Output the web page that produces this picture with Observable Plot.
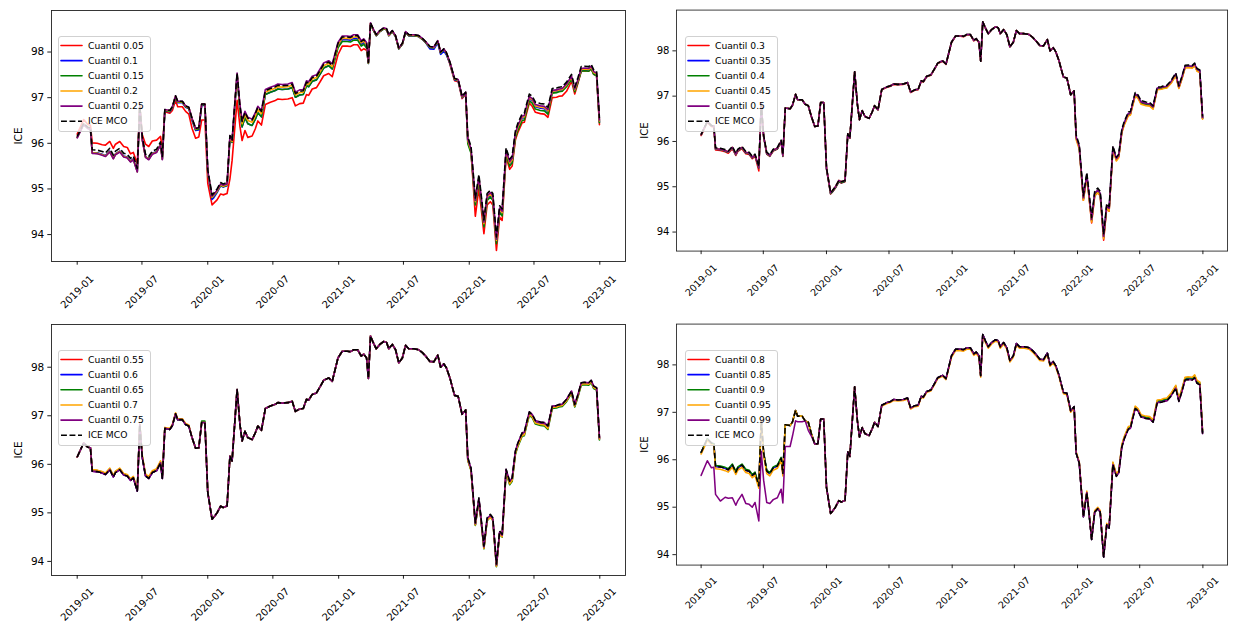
<!DOCTYPE html>
<html>
<head>
<meta charset="utf-8">
<script src="https://cdn.jsdelivr.net/npm/d3@7"></script>
<script src="https://cdn.jsdelivr.net/npm/@observablehq/plot@0.6"></script>
<style>
  html, body { margin:0; padding:0; background:#fff; overflow:hidden; }
  #chart { position:relative; width:1241px; height:623px; overflow:hidden; background:#fff; }
  #chart .panel { position:absolute; }
  #chart svg { overflow:visible; }
</style>
</head>
<body>
<div id="chart"></div>
<script>
// ---------- data ----------
const dates = [
"2019-01-01","2019-01-19","2019-01-31","2019-02-07","2019-02-12","2019-02-26","2019-03-12","2019-03-21","2019-04-02","2019-04-12",
"2019-04-18","2019-04-30","2019-05-11","2019-05-21","2019-05-30","2019-06-07","2019-06-18","2019-06-25","2019-07-02","2019-07-11",
"2019-07-20","2019-07-30","2019-08-11","2019-08-22","2019-08-27","2019-09-03","2019-09-17","2019-09-24","2019-10-03","2019-10-09",
"2019-10-22","2019-10-31","2019-11-09","2019-11-18","2019-11-28","2019-12-07","2019-12-15","2019-12-24","2020-01-01","2020-01-13",
"2020-01-18","2020-01-27","2020-02-06","2020-02-13","2020-02-24","2020-03-03","2020-03-09","2020-03-23","2020-03-31","2020-04-06",
"2020-04-14","2020-04-22","2020-05-04","2020-05-13","2020-05-20","2020-05-30","2020-06-10","2020-06-24","2020-07-06","2020-07-15",
"2020-07-27","2020-08-12","2020-08-24","2020-09-02","2020-09-14","2020-09-24","2020-10-03","2020-10-09","2020-10-19","2020-10-31",
"2020-11-11","2020-11-20","2020-12-04","2020-12-14","2020-12-30","2021-01-11","2021-01-25","2021-02-03","2021-02-12","2021-02-23",
"2021-03-05","2021-03-12","2021-03-20","2021-03-25","2021-03-31","2021-04-08","2021-04-16","2021-04-26","2021-05-07","2021-05-15",
"2021-05-21","2021-05-31","2021-06-09","2021-06-18","2021-06-28","2021-07-07","2021-07-16","2021-07-30","2021-08-13","2021-08-23",
"2021-09-01","2021-09-13","2021-09-24","2021-10-05","2021-10-13","2021-10-22","2021-10-29","2021-11-08","2021-11-14","2021-11-21",
"2021-12-01","2021-12-12","2021-12-22","2021-12-28","2022-01-06","2022-01-18","2022-01-28","2022-02-03","2022-02-11","2022-02-20",
"2022-03-01","2022-03-08","2022-03-18","2022-03-27","2022-04-03","2022-04-14","2022-04-24","2022-05-01","2022-05-10","2022-05-17",
"2022-05-29","2022-06-04","2022-06-09","2022-06-18","2022-06-26","2022-07-05","2022-07-19","2022-07-30","2022-08-09","2022-08-21",
"2022-09-02","2022-09-09","2022-09-18","2022-09-30","2022-10-14","2022-10-23","2022-11-01","2022-11-10","2022-11-19","2022-12-01",
"2022-12-08","2022-12-15","2022-12-23","2022-12-31"
];

// ICE MCO (dashed black line, identical in the four panels)
const iceMCO = [
96.15,96.44,96.35,96.34,95.86,95.85,95.82,95.79,95.89,95.74,
95.83,95.89,95.78,95.76,95.67,95.72,95.45,96.82,96.14,95.76,
95.71,95.83,95.87,96.03,95.71,96.74,96.72,96.80,97.04,96.92,
96.92,96.82,96.79,96.55,96.33,96.34,96.86,96.86,95.42,94.87,
94.91,95.00,95.14,95.11,95.14,96.17,96.07,97.54,96.82,96.48,
96.68,96.55,96.51,96.65,96.79,96.70,97.15,97.20,97.23,97.27,
97.26,97.27,97.30,97.09,97.14,97.15,97.34,97.32,97.44,97.47,
97.61,97.73,97.78,97.71,98.19,98.33,98.33,98.32,98.36,98.36,
98.23,98.27,98.19,97.77,98.64,98.50,98.38,98.47,98.53,98.51,
98.38,98.47,98.36,98.09,98.19,98.45,98.38,98.38,98.36,98.30,
98.23,98.12,98.11,98.25,98.00,98.07,97.99,97.78,97.61,97.42,
97.40,97.03,97.12,96.14,95.93,94.80,95.31,94.90,94.32,94.90,
94.97,94.90,93.95,94.63,94.56,95.90,95.65,95.72,96.27,96.44,
96.65,96.66,96.82,97.08,97.03,96.90,96.87,96.86,96.79,97.20,
97.21,97.23,97.24,97.34,97.51,97.23,97.44,97.68,97.69,97.68,
97.73,97.61,97.58,96.55
];

// Quantile lines, read as their gap from the ICE MCO line at each date
const q005Gap = [
.05,.08,.06,.06,.15,.15,.15,.17,.15,.15,
.15,.15,.15,.15,.1,.08,.1,0,.05,.22,
.22,.22,.2,.12,.15,-.05,-.06,-.08,-.1,-.12,
-.12,-.12,-.15,-.22,-.22,-.2,-.35,-.35,-.3,-.22,
-.22,-.24,-.25,-.24,-.24,-.95,-.45,-.6,-.45,-.42,
-.4,-.42,-.35,-.33,-.3,-.3,-.3,-.3,-.3,-.3,
-.3,-.3,-.3,-.27,-.27,-.27,-.27,-.27,-.25,-.25,
-.25,-.25,-.25,-.25,-.25,-.2,-.2,-.2,-.2,-.2,
-.2,-.2,-.15,0,-.02,-.02,-.02,-.02,-.02,-.02,
-.02,-.02,-.02,-.02,-.02,-.02,-.02,-.02,-.02,-.02,
-.02,-.02,-.02,-.02,-.02,-.02,-.02,-.05,-.05,-.05,
-.05,-.05,-.05,-.08,-.12,-.4,-.3,-.3,-.3,-.25,
-.25,-.25,-.3,-.25,-.25,-.2,-.22,-.22,-.2,-.2,
-.2,-.2,-.2,-.2,-.22,-.22,-.22,-.22,-.22,-.2,
-.2,-.2,-.2,-.2,-.15,-.15,-.12,-.1,-.1,-.1,
-.1,-.1,-.1,-.14
];
const q010Gap = [
-.02,-.02,-.02,-.02,-.06,-.06,-.06,-.06,-.06,-.06,
-.06,-.06,-.06,-.06,-.06,-.06,-.06,0,-.05,-.05,
-.05,-.05,-.05,-.05,-.05,-.03,-.03,-.03,-.03,-.03,
-.03,-.03,-.03,-.05,-.05,-.05,-.03,-.03,-.05,-.1,
-.1,-.08,-.07,-.07,-.07,-.05,-.05,-.05,-.12,-.12,
-.12,-.12,-.12,-.12,-.12,-.12,-.08,-.08,-.08,-.08,
-.08,-.08,-.08,-.08,-.08,-.08,-.08,-.08,-.08,-.08,
-.08,-.08,-.08,-.08,-.06,-.06,-.06,-.06,-.06,-.06,
-.06,-.06,-.06,-.02,-.02,-.02,-.02,-.02,-.02,-.02,
-.02,-.02,-.02,-.02,-.02,-.02,-.02,-.02,-.02,-.02,
-.02,-.05,-.05,-.05,-.05,-.05,-.05,-.03,-.03,-.03,
-.03,-.03,-.03,-.1,-.1,-.1,-.1,-.1,-.1,-.1,
-.1,-.1,-.1,-.1,-.1,-.1,-.1,-.1,-.1,-.1,
-.1,-.1,-.1,-.1,-.1,-.1,-.1,-.1,-.1,-.08,
-.08,-.08,-.08,-.08,-.08,-.08,-.08,-.08,-.08,-.08,
-.08,-.08,-.08,-.08
];
const q015Gap = [
-.02,-.02,-.02,-.02,-.07,-.07,-.07,-.07,-.07,-.07,
-.07,-.07,-.07,-.07,-.07,-.07,-.07,0,-.06,-.06,
-.06,-.06,-.06,-.06,-.06,-.02,-.02,-.02,-.02,-.02,
-.02,-.02,-.02,-.03,-.03,-.03,-.02,-.02,-.06,-.06,
-.06,-.06,-.06,-.06,-.06,-.05,-.05,-.05,-.12,-.12,
-.12,-.12,-.12,-.12,-.12,-.12,-.08,-.08,-.08,-.08,
-.08,-.08,-.08,-.08,-.08,-.08,-.08,-.08,-.08,-.08,
-.08,-.08,-.08,-.08,-.1,-.1,-.1,-.1,-.1,-.1,
-.1,-.1,-.1,-.02,-.02,-.02,-.02,-.02,-.02,-.02,
-.02,-.02,-.02,-.02,-.02,-.02,-.02,-.02,-.02,-.02,
-.02,-.02,-.02,-.02,-.02,-.02,-.02,-.02,-.02,-.02,
-.02,-.02,-.02,-.15,-.15,-.15,-.15,-.15,-.15,-.15,
-.15,-.15,-.15,-.15,-.15,-.15,-.15,-.15,-.15,-.15,
-.15,-.15,-.15,-.15,-.15,-.15,-.15,-.15,-.15,-.1,
-.1,-.1,-.1,-.1,-.1,-.1,-.1,-.1,-.1,-.1,
-.1,-.1,-.1,-.1
];
const q020Gap = [
-.02,-.02,-.02,-.02,-.07,-.07,-.07,-.07,-.07,-.07,
-.07,-.07,-.07,-.07,-.07,-.07,-.07,0,-.06,-.06,
-.06,-.06,-.06,-.06,-.06,-.01,-.01,-.01,-.01,-.01,
-.01,-.01,-.01,-.01,-.01,-.01,0,0,-.05,-.05,
-.05,-.05,-.05,-.05,-.05,-.03,-.03,-.03,-.05,-.05,
-.05,-.05,-.05,-.05,-.05,-.05,-.03,-.03,-.03,-.03,
-.03,-.03,-.03,-.03,-.03,-.03,-.03,-.03,-.03,-.03,
-.03,-.03,-.03,-.03,-.03,-.03,-.03,-.03,-.03,-.03,
-.03,-.03,-.03,-.01,-.01,-.01,-.01,-.01,-.01,-.01,
-.01,-.01,-.01,-.01,-.01,-.01,-.01,-.01,-.01,-.01,
-.01,-.01,-.01,-.01,-.01,-.01,-.01,-.01,-.01,-.01,
-.01,-.01,-.01,-.08,-.08,-.08,-.08,-.08,-.08,-.08,
-.08,-.08,-.08,-.08,-.08,-.08,-.08,-.08,-.08,-.08,
-.08,-.08,-.08,-.08,-.08,-.08,-.08,-.08,-.08,-.06,
-.06,-.06,-.06,-.06,-.06,-.06,-.06,-.06,-.06,-.06,
-.06,-.06,-.06,-.06
];
const q025Gap = [
-.03,-.03,-.03,-.03,-.08,-.08,-.08,-.08,-.08,-.08,
-.08,-.08,-.08,-.08,-.08,-.08,-.08,0,-.07,-.07,
-.07,-.07,-.07,-.07,-.07,0,0,0,0,0,
0,0,0,0,0,0,0,0,-.03,-.03,
-.03,-.03,-.03,-.03,-.03,0,0,0,.02,.02,
.02,.02,.02,.02,.02,.02,.03,.03,.03,.03,
.03,.03,.03,.03,.03,.03,.03,.03,.03,.03,
.03,.03,.03,.03,.02,.02,.02,.02,.02,.02,
.02,.02,.02,0,0,0,0,0,0,0,
0,0,0,0,0,0,0,0,0,0,
0,0,0,0,0,0,0,0,0,0,
0,0,0,-.05,-.05,-.05,-.05,-.05,-.05,-.05,
-.05,-.05,-.05,-.05,-.05,-.05,-.05,-.05,-.05,-.05,
-.05,-.05,-.05,-.05,-.05,-.05,-.05,-.05,-.05,-.04,
-.04,-.04,-.04,-.04,-.04,-.04,-.04,-.04,-.04,-.04,
-.04,-.04,-.04,-.04
];
const q030Gap = [
-.02,-.02,-.02,-.02,-.05,-.05,-.05,-.05,-.05,-.05,
-.05,-.05,-.05,-.05,-.05,-.05,-.1,0,-.04,-.04,
-.04,-.04,-.04,-.04,-.04,0,0,0,0,0,
0,0,0,0,0,0,0,0,-.03,-.03,
-.03,-.03,-.03,-.03,-.03,0,0,0,0,0,
0,0,0,0,0,0,-.01,-.01,-.01,-.01,
-.01,-.01,-.01,-.01,-.01,-.01,-.01,-.01,-.01,-.01,
-.01,-.01,-.01,-.01,-.01,-.01,-.01,-.01,-.01,-.01,
-.01,-.01,-.01,0,0,0,0,0,0,0,
0,0,0,0,0,0,0,0,0,0,
0,0,0,0,0,0,0,0,0,0,
0,0,0,-.05,-.06,-.1,-.08,-.1,-.12,-.1,
-.1,-.1,-.13,-.1,-.1,-.06,-.06,-.06,-.06,-.06,
-.06,-.06,-.06,-.06,-.06,-.06,-.06,-.06,-.06,-.05,
-.05,-.05,-.05,-.05,-.05,-.05,-.05,-.05,-.05,-.05,
-.05,-.05,-.05,-.05
];
const q035Gap = [
0,0,0,0,-.03,-.03,-.03,-.03,-.03,-.03,
-.03,-.03,-.03,-.03,-.03,-.03,-.03,0,-.03,-.03,
-.03,-.03,-.03,-.03,-.03,0,0,0,0,0,
0,0,0,0,0,0,0,0,-.02,-.02,
-.02,-.02,-.02,-.02,-.02,0,0,0,0,0,
0,0,0,0,0,0,0,0,0,0,
0,0,0,0,0,0,0,0,0,0,
0,0,0,0,0,0,0,0,0,0,
0,0,0,0,0,0,0,0,0,0,
0,0,0,0,0,0,0,0,0,0,
0,0,0,0,0,0,0,0,0,0,
0,0,0,-.07,-.07,-.07,-.07,-.07,-.07,-.07,
-.07,-.07,-.07,-.07,-.07,-.04,-.04,-.04,-.04,-.04,
-.04,-.04,-.04,-.04,-.04,-.04,-.04,-.04,-.04,-.03,
-.03,-.03,-.03,-.03,-.03,-.03,-.03,-.03,-.03,-.03,
-.03,-.03,-.03,-.03
];
const q040Gap = [
0,0,0,0,-.03,-.03,-.03,-.03,-.03,-.03,
-.03,-.03,-.03,-.03,-.03,-.03,-.03,0,-.03,-.03,
-.03,-.03,-.03,-.03,-.03,0,0,0,0,0,
0,0,0,0,0,0,0,0,-.02,-.02,
-.02,-.02,-.02,-.02,-.02,0,0,0,0,0,
0,0,0,0,0,0,0,0,0,0,
0,0,0,0,0,0,0,0,0,0,
0,0,0,0,0,0,0,0,0,0,
0,0,0,0,0,0,0,0,0,0,
0,0,0,0,0,0,0,0,0,0,
0,0,0,0,0,0,0,0,0,0,
0,0,0,-.06,-.06,-.06,-.06,-.06,-.06,-.06,
-.06,-.06,-.06,-.06,-.06,-.05,-.05,-.05,-.05,-.05,
-.05,-.05,-.05,-.05,-.05,-.05,-.05,-.05,-.05,-.04,
-.04,-.04,-.04,-.04,-.04,-.04,-.04,-.04,-.04,-.04,
-.04,-.04,-.04,-.04
];
const q045Gap = [
0,0,0,0,-.02,-.02,-.02,-.02,-.02,-.02,
-.02,-.02,-.02,-.02,-.02,-.02,-.02,0,-.02,-.02,
-.02,-.02,-.02,-.02,-.02,0,0,0,0,0,
0,0,0,0,0,0,0,0,0,0,
0,0,0,0,0,0,0,0,0,0,
0,0,0,0,0,0,0,0,0,0,
0,0,0,0,0,0,0,0,0,0,
0,0,0,0,0,0,0,0,0,0,
0,0,0,0,0,0,0,0,0,0,
0,0,0,0,0,0,0,0,0,0,
0,0,0,0,0,0,0,0,0,0,
0,0,0,-.1,-.1,-.1,-.1,-.1,-.1,-.1,
-.1,-.1,-.1,-.1,-.1,-.08,-.08,-.08,-.08,-.08,
-.08,-.08,-.08,-.08,-.08,-.08,-.08,-.08,-.08,-.06,
-.06,-.06,-.06,-.06,-.06,-.06,-.06,-.06,-.06,-.06,
-.06,-.06,-.06,-.06
];
const q050Gap = [
0,0,0,0,-.02,-.02,-.02,-.02,-.02,-.02,
-.02,-.02,-.02,-.02,-.02,-.02,-.02,0,-.02,-.02,
-.02,-.02,-.02,-.02,-.02,0,0,0,0,0,
0,0,0,0,0,0,0,0,0,0,
0,0,0,0,0,0,0,0,0,0,
0,0,0,0,0,0,0,0,0,0,
0,0,0,0,0,0,0,0,0,0,
0,0,0,0,0,0,0,0,0,0,
0,0,0,0,0,0,0,0,0,0,
0,0,0,0,0,0,0,0,0,0,
0,0,0,0,0,0,0,0,0,0,
0,0,0,-.04,-.04,-.04,-.04,-.04,-.04,-.04,
-.04,-.04,-.04,-.04,-.04,-.03,-.03,-.03,-.03,-.03,
-.03,-.03,-.03,-.03,-.03,-.03,-.03,-.03,-.03,-.02,
-.02,-.02,-.02,-.02,-.02,-.02,-.02,-.02,-.02,-.02,
-.02,-.02,-.02,-.02
];
const q055Gap = [
0,0,0,0,0,0,0,0,0,0,
0,0,0,0,0,0,0,0,0,0,
0,0,0,0,0,0,0,0,0,0,
0,0,0,0,0,0,0,0,0,0,
0,0,0,0,0,0,0,0,0,0,
0,0,0,0,0,0,0,0,0,0,
0,0,0,0,0,0,0,0,0,0,
0,0,0,0,0,0,0,0,0,0,
0,0,0,0,0,0,0,0,0,0,
0,0,0,0,0,0,0,0,0,0,
0,0,0,0,0,0,0,0,0,0,
0,0,0,-.04,-.04,-.04,-.04,-.04,-.04,-.04,
-.04,-.04,-.04,-.04,-.04,-.03,-.03,-.03,-.03,-.03,
-.03,-.03,-.03,-.03,-.03,-.03,-.03,-.03,-.03,-.02,
-.02,-.02,-.02,-.02,-.02,-.02,-.02,-.02,-.02,-.02,
-.02,-.02,-.02,-.02
];
const q060Gap = [
0,0,0,0,0,0,0,0,0,0,
0,0,0,0,0,0,0,0,0,0,
0,0,0,0,0,0,0,0,0,0,
0,0,0,0,0,0,0,0,0,0,
0,0,0,0,0,0,0,0,0,0,
0,0,0,0,0,0,0,0,0,0,
0,0,0,0,0,0,0,0,0,0,
0,0,0,0,0,0,0,0,0,0,
0,0,0,0,0,0,0,0,0,0,
0,0,0,0,0,0,0,0,0,0,
0,0,0,0,0,0,0,0,0,0,
0,0,0,-.04,-.04,-.04,-.04,-.04,-.04,-.04,
-.04,-.04,-.04,-.04,-.04,-.04,-.04,-.04,-.04,-.04,
-.04,-.04,-.04,-.04,-.04,-.04,-.04,-.04,-.04,-.03,
-.03,-.03,-.03,-.03,-.03,-.03,-.03,-.03,-.03,-.03,
-.03,-.03,-.03,-.03
];
const q065Gap = [
0,0,0,0,.02,.02,.02,.02,.02,.02,
.02,.02,.02,.02,.02,.02,.02,0,.02,.02,
.02,.02,.02,.02,.02,0,0,0,0,0,
0,0,0,0,0,0,.03,.03,0,0,
0,0,0,0,0,0,0,0,0,0,
0,0,0,0,0,0,0,0,0,0,
0,0,0,0,0,0,0,0,0,0,
0,0,0,0,0,0,0,0,0,0,
0,0,0,0,0,0,0,0,0,0,
0,0,0,0,0,0,0,0,0,0,
0,0,0,0,0,0,0,0,0,0,
0,0,0,-.06,-.06,-.06,-.06,-.06,-.06,-.06,
-.06,-.06,-.06,-.06,-.06,-.07,-.07,-.07,-.07,-.07,
-.07,-.07,-.07,-.07,-.07,-.07,-.07,-.07,-.07,-.05,
-.05,-.05,-.05,-.05,-.05,-.05,-.05,-.05,-.05,-.05,
-.05,-.05,-.05,-.05
];
const q070Gap = [
0,0,0,0,.03,.03,.03,.03,.03,.03,
.03,.03,.03,.03,.03,.03,.03,0,.04,.04,
.04,.04,.04,.04,.04,.02,.02,.02,.02,.02,
.02,.02,.02,0,0,0,0,0,0,0,
0,0,0,0,0,0,0,0,0,0,
0,0,0,0,0,0,0,0,0,0,
0,0,0,0,0,0,0,0,0,0,
0,0,0,0,0,0,0,0,0,0,
0,0,0,0,0,0,0,0,0,0,
0,0,0,0,0,0,0,0,0,0,
0,0,0,0,0,0,0,0,0,0,
0,0,0,-.05,-.05,-.05,-.05,-.05,-.05,-.05,
-.05,-.05,-.05,-.05,-.05,-.05,-.05,-.05,-.05,-.05,
-.05,-.05,-.05,-.05,-.05,-.05,-.05,-.05,-.05,-.03,
-.03,-.03,-.03,-.03,-.03,-.03,-.03,-.03,-.03,-.03,
-.03,-.03,-.03,-.03
];
const q075Gap = [
0,0,0,0,0,0,0,0,0,0,
0,0,0,0,0,0,0,0,0,0,
0,0,0,0,0,0,0,0,0,0,
0,0,0,0,0,0,0,0,0,0,
0,0,0,0,0,0,0,0,0,0,
0,0,0,0,0,0,0,0,0,0,
0,0,0,0,0,0,0,0,0,0,
0,0,0,0,0,0,0,0,0,0,
0,0,0,0,0,0,0,0,0,0,
0,0,0,0,0,0,0,0,0,0,
0,0,0,0,0,0,0,0,0,0,
0,0,0,-.02,-.02,-.02,-.02,-.02,-.02,-.02,
-.02,-.02,-.02,-.02,-.02,0,0,0,0,0,
0,0,0,0,0,0,0,0,0,0,
0,0,0,0,0,0,0,0,0,0,
0,0,0,0
];
const q080Gap = [
0,0,0,0,0,0,0,0,0,0,
0,0,0,0,0,0,0,0,0,0,
0,0,0,0,0,0,0,0,0,0,
0,0,0,0,0,0,0,0,0,0,
0,0,0,0,0,0,0,0,0,0,
0,0,0,0,0,0,0,0,0,0,
0,0,0,0,0,0,0,0,0,0,
0,0,0,0,0,0,0,0,0,0,
0,0,0,0,0,0,0,0,0,0,
0,0,0,0,0,0,0,0,0,0,
0,0,0,0,0,0,0,0,0,0,
0,0,0,0,0,0,0,0,0,0,
0,0,0,0,0,.02,.02,.02,.02,.02,
.02,.02,.02,.02,.02,.02,.02,.02,.02,.02,
.02,.02,.02,.02,.02,.02,.02,.02,.02,.02,
.02,.02,.02,.02
];
const q085Gap = [
0,0,0,0,0,0,0,0,0,0,
0,0,0,0,0,0,0,0,0,0,
0,0,0,0,0,0,0,0,0,0,
0,0,0,0,0,0,0,0,0,0,
0,0,0,0,0,0,0,0,0,0,
0,0,0,0,0,0,0,0,0,0,
0,0,0,0,0,0,0,0,0,0,
0,0,0,0,0,0,0,0,0,0,
0,0,0,0,0,0,0,0,0,0,
0,0,0,0,0,0,0,0,0,0,
0,0,0,0,0,0,0,0,0,0,
0,0,0,0,0,0,0,0,0,0,
0,0,0,0,0,.02,.02,.02,.02,.02,
.02,.02,.02,.02,.02,.02,.02,.02,.02,.03,
.03,.03,.03,.03,.03,.03,.03,.03,.03,.03,
.03,.03,.03,.03
];
const q090Gap = [
0,0,0,0,.02,.02,.02,.02,.02,.02,
.02,.02,.02,.02,.02,.02,.02,0,.02,.02,
.02,.02,.02,.02,.02,0,0,0,0,0,
0,0,0,0,0,0,0,0,0,0,
0,0,0,0,0,0,0,0,0,0,
0,0,0,0,0,0,0,0,0,0,
0,0,0,0,0,0,0,0,0,0,
0,0,0,0,0,0,0,0,0,0,
0,0,0,0,0,0,0,0,0,0,
0,0,0,0,0,0,0,0,0,0,
0,0,0,0,0,0,0,0,0,0,
0,0,0,0,0,0,0,0,0,0,
0,0,0,0,0,.03,.03,.03,.03,.03,
.03,.03,.03,.03,.03,.03,.03,.03,.03,.04,
.04,.04,.04,.04,.04,.04,.04,.04,.04,.04,
.04,.04,.04,.04
];
const q095Gap = [
-.03,-.03,-.03,-.03,-.05,-.05,-.05,-.05,-.05,-.05,
-.05,-.05,-.05,-.05,-.05,-.05,-.05,0,-.05,-.05,
-.05,-.05,-.05,-.05,-.05,0,0,0,0,0,
0,0,0,0,0,0,0,0,0,0,
0,0,0,0,0,0,0,0,0,0,
0,0,0,0,0,0,-.02,-.02,-.02,-.02,
-.02,-.02,-.02,-.02,-.02,-.02,-.02,-.02,-.02,-.02,
-.02,-.02,-.02,-.02,-.03,-.03,-.03,-.03,-.03,-.03,
-.03,-.03,-.03,-.03,-.03,-.03,-.03,-.03,-.03,-.03,
-.03,-.03,-.03,-.03,-.03,-.03,-.03,-.03,-.03,-.03,
-.03,-.03,-.03,-.03,-.03,-.03,-.03,-.03,-.03,-.03,
-.03,-.03,-.03,.03,.03,.03,.03,.03,.03,.03,
.03,.03,.03,.03,.03,.05,.05,.05,.05,.05,
.05,.05,.05,.05,.05,.05,.05,.05,.05,.06,
.06,.06,.06,.06,.06,.06,.06,.06,.06,.06,
.06,.06,.06,.07
];
const q099Gap = [
-.48,-.46,-.52,-.5,-.59,-.72,-.61,-.6,-.69,-.7,
-.69,-.62,-.7,-.7,-.67,-.62,-.74,-.64,-.57,-.66,
-.63,-.67,-.67,-.65,-.62,-.46,-.44,-.3,-.22,-.12,
-.12,0,-.17,-.05,0,0,0,0,0,0,
0,0,0,0,0,0,0,0,0,0,
0,0,0,0,0,0,0,0,0,0,
0,0,0,0,0,0,0,0,0,0,
0,0,0,0,0,0,0,0,0,0,
0,0,0,0,0,0,0,0,0,0,
0,0,0,0,0,0,0,0,0,0,
0,0,0,0,0,0,0,0,0,0,
0,0,0,0,0,0,0,0,0,0,
0,0,0,0,0,0,0,0,0,0,
0,0,0,0,0,0,0,0,0,0,
0,0,0,0,0,0,0,0,0,0,
0,0,0,0
];

const legend1 = ["Cuantil 0.05","Cuantil 0.1","Cuantil 0.15","Cuantil 0.2","Cuantil 0.25"];
const legend2 = ["Cuantil 0.3","Cuantil 0.35","Cuantil 0.4","Cuantil 0.45","Cuantil 0.5"];
const legend3 = ["Cuantil 0.55","Cuantil 0.6","Cuantil 0.65","Cuantil 0.7","Cuantil 0.75"];
const legend4 = ["Cuantil 0.8","Cuantil 0.85","Cuantil 0.9","Cuantil 0.95","Cuantil 0.99"];
const mcoLabel = "ICE MCO";
const yLabel = "ICE";
const xTickLabels = ["2019-01","2019-07","2020-01","2020-07","2021-01","2021-07","2022-01","2022-07","2023-01"];
const yTicks = [94, 95, 96, 97, 98];

// ---------- drawing ----------
const lineColors = ["red", "blue", "green", "orange", "purple"];
const FONT = "DejaVu Sans, Liberation Sans, sans-serif";
const DAY = 864e5;
const toDate = s => new Date(s + "T00:00:00Z");
const xDomain = [new Date(Date.UTC(2019, 0, 1) - 71.85 * DAY), new Date(Date.UTC(2023, 0, 1) + 71.85 * DAY)];
const xTickDates = xTickLabels.map(s => toDate(s + "-01"));
const tickLabelOf = new Map(xTickDates.map((d, i) => [+d, xTickLabels[i]]));

const panels = [
  {left: 0,     top: 0,   labelDy: 30.5, yDomain: [93.41, 98.91], labels: legend1, gaps: [q005Gap, q010Gap, q015Gap, q020Gap, q025Gap]},
  {left: 626.5, top: 0,   labelDy: 30.5, yDomain: [93.58, 98.90], labels: legend2, gaps: [q030Gap, q035Gap, q040Gap, q045Gap, q050Gap]},
  {left: 0,     top: 314, labelDy: 29,   yDomain: [93.71, 98.88], labels: legend3, gaps: [q055Gap, q060Gap, q065Gap, q070Gap, q075Gap]},
  {left: 626.5, top: 314, labelDy: 29,   yDomain: [93.78, 98.86], labels: legend4, gaps: [q080Gap, q085Gap, q090Gap, q095Gap, q099Gap]}
];

const chart = document.getElementById("chart");
const DASH = "5.9,2.6";

for (const p of panels) {
  p.gaps.forEach((g, k) => { if (g.length !== dates.length) console.error("length mismatch", p.labels[k], g.length); });
  const mco = dates.map((d, i) => ({date: toDate(d), value: iceMCO[i]}));
  const quantLines = p.gaps.map((g, k) => dates.map((d, i) => ({date: toDate(d), value: iceMCO[i] + (g[i] || 0), series: p.labels[k]})));

  const svg = Plot.plot({
    width: 640, height: 320,
    marginLeft: 51, marginRight: 15, marginTop: 10, marginBottom: 59,
    x: {type: "utc", domain: xDomain},
    y: {domain: p.yDomain},
    style: {fontFamily: FONT, fontSize: "10.5px", color: "#000", background: "transparent", overflow: "visible"},
    marks: [
      ...quantLines.map((s, k) => Plot.line(s, {x: "date", y: "value", stroke: lineColors[k], strokeWidth: 1.6})),
      Plot.line(mco, {x: "date", y: "value", stroke: "black", strokeWidth: 1.6, strokeDasharray: DASH, strokeLinecap: "butt"}),
      Plot.frame({stroke: "#222", strokeWidth: 0.9}),
      Plot.axisY({ticks: yTicks, tickSize: 3.7, tickPadding: 3.5, tickFormat: d => String(d), label: null, strokeWidth: 0.9}),
      Plot.axisX({ticks: xTickDates, tickSize: 3.7, tickFormat: () => "", label: null, strokeWidth: 0.9}),
      Plot.text(xTickDates, {x: d => d, text: d => tickLabelOf.get(+d), frameAnchor: "bottom", dy: p.labelDy, rotate: -45,
        textAnchor: "middle", lineAnchor: "middle", fontSize: 10, fill: "#000"}),
      Plot.text([yLabel], {frameAnchor: "left", text: d => d, dx: -32.5, rotate: -90,
        textAnchor: "middle", lineAnchor: "middle", fontSize: 10.5, fill: "#000"})
    ]
  });
  const holder = document.createElement("div");
  holder.className = "panel";
  holder.style.left = p.left + "px";
  holder.style.top = p.top + "px";
  holder.appendChild(svg);
  chart.appendChild(holder);

  // legend (upper left inside the axes)
  const entries = [...p.labels.map((l, k) => ({label: l, color: lineColors[k], dash: null})), {label: mcoLabel, color: "black", dash: DASH}];
  const lg = d3.select(chart).append("svg")
    .attr("class", "panel")
    .style("left", (p.left + 58) + "px").style("top", (p.top + 35.5) + "px")
    .attr("width", 94).attr("height", 97);
  lg.append("rect").attr("x", 0.5).attr("y", 0.5).attr("width", 92).attr("height", 95).attr("rx", 2.5)
    .attr("fill", "white").attr("fill-opacity", 0.8).attr("stroke", "#cccccc").attr("stroke-width", 0.9);
  entries.forEach((e, i) => {
    const cy = 9.5 + 15.15 * i;
    lg.append("line").attr("x1", 3).attr("x2", 24).attr("y1", cy).attr("y2", cy)
      .attr("stroke", e.color).attr("stroke-width", 1.6)
      .attr("stroke-dasharray", e.dash).attr("stroke-linecap", e.dash ? "butt" : "round");
    lg.append("text").attr("x", 30).attr("y", cy).attr("dy", "0.35em")
      .attr("font-family", FONT).attr("font-size", 9.2).attr("fill", "#000").text(e.label);
  });
}
</script>
</body>
</html>
